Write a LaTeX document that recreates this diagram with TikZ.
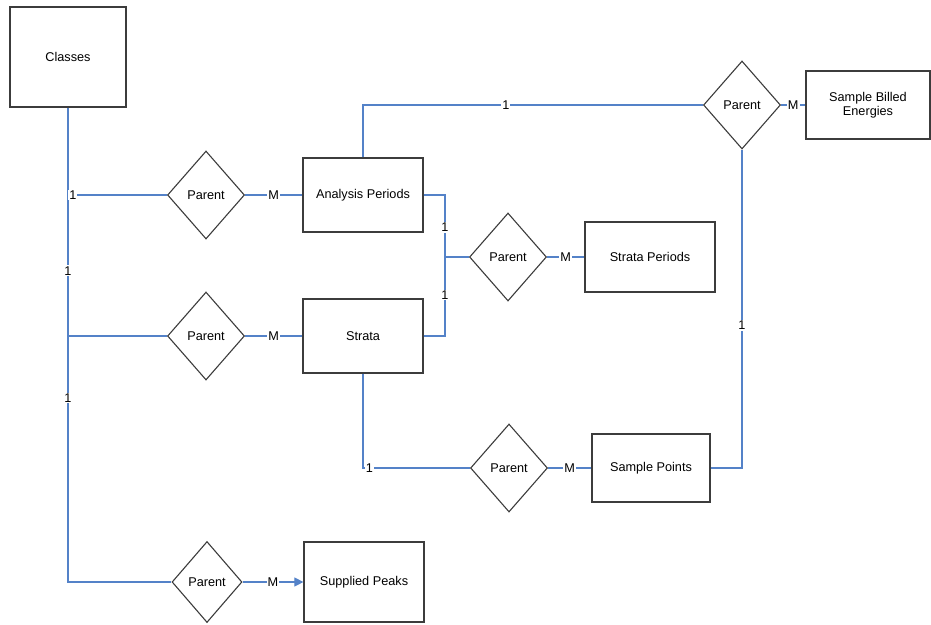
\documentclass[tikz,border=0pt]{standalone}
\usepackage{fontspec}
\setmainfont{Liberation Sans}
\usetikzlibrary{shapes.geometric,arrows.meta}
\definecolor{conncol}{RGB}{84,130,200}
\definecolor{edgecol}{RGB}{60,60,60}
\tikzset{
  x=1pt, y=-1pt,
  entity/.style={draw=edgecol, line width=1.2pt, fill=white, inner sep=0pt, font=\fontsize{12.7}{14}\selectfont, align=center},
  rel/.style={draw=edgecol, line width=1.1pt, shape=diamond, fill=white, inner sep=0pt, minimum width=77pt, minimum height=88pt, font=\fontsize{12.7}{14}\selectfont},
  conn/.style={draw=conncol, line width=1.1pt},
  card/.style={fill=white, inner sep=1pt, text=black, font=\fontsize{12.7}{14}\selectfont}
}
\begin{document}
\begin{tikzpicture}
\useasboundingbox (0,0) rectangle (931,624);
% entities
\node[entity, minimum width=116pt, minimum height=100pt] (classes) at (68,57) {Classes};
\node[entity, minimum width=120pt, minimum height=74pt] (ap) at (363,195) {Analysis Periods};
\node[entity, minimum width=120pt, minimum height=74pt] (strata) at (363,336) {Strata};
\node[entity, minimum width=120pt, minimum height=80pt] (sp) at (364,582) {Supplied Peaks};
\node[entity, minimum width=130pt, minimum height=70pt] (stp) at (650,257) {Strata Periods};
\node[entity, minimum width=124pt, minimum height=68pt] (sbe) at (868,105) {Sample Billed\\Energies};
\node[entity, minimum width=118pt, minimum height=68pt] (spts) at (651,468) {Sample Points};
% relationships
\node[rel] (d1) at (206,195) {Parent};
\node[rel] (d2) at (206,336) {Parent};
\node[rel, minimum width=70pt, minimum height=81pt] (d3) at (207,582) {Parent};
\node[rel] (d4) at (508,257) {Parent};
\node[rel] (d5) at (742,105) {Parent};
\node[rel] (d6) at (509,468) {Parent};
\coordinate (j) at (445,257);
% connectors
\draw[conn] (classes.south) -- node[card, pos=0.344]{1} node[card, pos=0.612]{1} (classes.south |- d3.west) -- (d3.west);
\draw[conn] (classes.south |- d1.west) -- node[card, pos=0.05]{1} (d1.west);
\draw[conn] (classes.south |- d2.west) -- (d2.west);
\draw[conn] (d1.east) -- node[card]{M} (ap.west);
\draw[conn] (d2.east) -- node[card]{M} (strata.west);
\draw[conn, -{Triangle[length=9pt,width=9pt]}] (d3.east) -- node[card]{M} (sp.west);
\draw[conn] (ap.east) -| node[card, pos=0.76]{1} (j);
\draw[conn] (strata.east) -| node[card, pos=0.76]{1} (j);
\draw[conn] (j) -- (d4.west);
\draw[conn] (d4.east) -- node[card]{M} (stp.west);
\draw[conn] (ap.north) |- node[card, pos=0.71]{1} (d5.west);
\draw[conn] (d5.east) -- node[card]{M} (sbe.west);
\draw[conn] (d5.south) |- node[card, pos=0.276]{1} (spts.east);
\draw[conn] (strata.south) |- node[card, pos=0.53]{1} (d6.west);
\draw[conn] (d6.east) -- node[card]{M} (spts.west);
\end{tikzpicture}
\end{document}
